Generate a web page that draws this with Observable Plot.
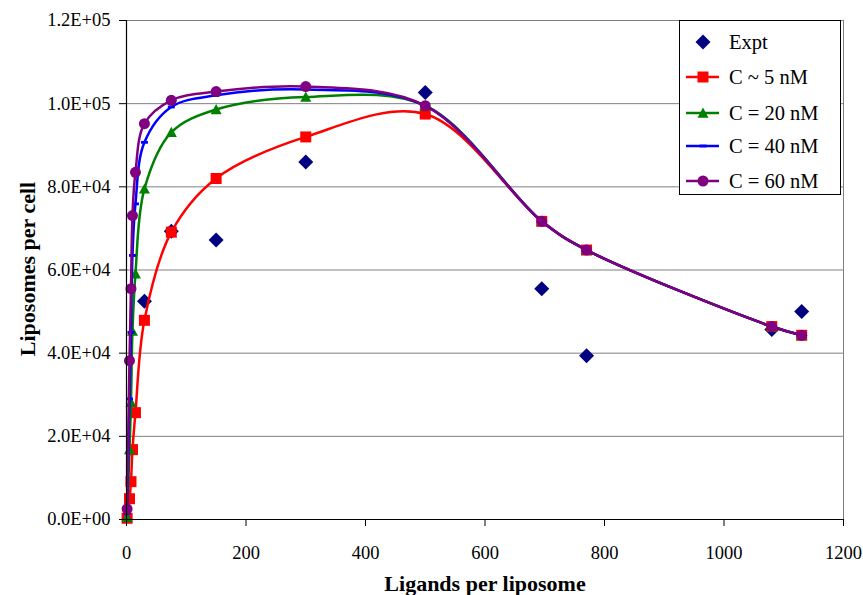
<!DOCTYPE html>
<html>
<head>
<meta charset="utf-8">
<script src="https://cdn.jsdelivr.net/npm/d3@7"></script>
<script src="https://cdn.jsdelivr.net/npm/@observablehq/plot@0.6"></script>
<style>
  html, body { margin: 0; padding: 0; background: #fff; }
  #wrap { position: relative; width: 863px; height: 595px; font-family: 'Liberation Serif', serif; }
  #wrap svg.plot { position: absolute; left: 0; top: 0; }
  .title { position: absolute; font-family: 'Liberation Serif', serif; font-weight: bold; font-size: 22px; color: #000; white-space: nowrap; }
  #xtitle { left: 485px; top: 584px; transform: translate(-50%, -50%); }
  #ytitle { left: 28px; top: 269px; transform: translate(-50%, -50%) rotate(-90deg); }
  #legend { position: absolute; left: 679px; top: 20px; width: 160px; height: 173px; background: #fff; border: 1px solid #000; }
</style>
</head>
<body>
<div id="wrap">
  <div id="xtitle" class="title">Ligands per liposome</div>
  <div id="ytitle" class="title">Liposomes per cell</div>
</div>
<script>
// ---- data ----
const exptX = [30, 75, 150, 300, 500, 695, 770, 1080, 1130];
const exptY = [52500, 69300, 67200, 86000, 102700, 55500, 39400, 45700, 50000];

const modelX = [1, 5, 7.5, 10, 15, 30, 75, 150, 300, 500, 695, 770, 1080, 1130];
const c5Y  = [300, 5000, 9100, 16800, 25700, 47900, 69100, 82000, 92000, 97500, 71700, 64800, 46400, 44300];
const c20Y = [550, 16800, 28200, 45300, 59100, 79500, 93100, 98600, 101600, 99500, 71700, 64800, 46400, 44300];
const c40Y = [1500, 29000, 45000, 63500, 75900, 90700, 99200, 102000, 103400, 99500, 71700, 64800, 46400, 44300];
const c60Y = [2570, 38200, 55500, 73100, 83500, 95200, 100800, 102900, 104100, 99500, 71700, 64800, 46400, 44300];

const seriesNames = ["Expt", "C ~ 5 nM", "C = 20 nM", "C = 40 nM", "C = 60 nM"];
const seriesColors = ["#000080", "#FF0000", "#008000", "#0000FF", "#800080"];

const xTicks = [0, 200, 400, 600, 800, 1000, 1200];
const yTicks = [0, 20000, 40000, 60000, 80000, 100000, 120000];

// ---- symbols (half-extent r recovered from size = PI r^2) ----
const R = s => Math.sqrt(s / Math.PI);
const diamond = { draw(c, s) { const r = R(s); c.moveTo(0, -r); c.lineTo(r, 0); c.lineTo(0, r); c.lineTo(-r, 0); c.closePath(); } };
const square = { draw(c, s) { const r = R(s); c.rect(-r, -r, 2 * r, 2 * r); } };
const triangle = { draw(c, s) { const r = R(s); c.moveTo(0, -r); c.lineTo(r, r * 0.85); c.lineTo(-r, r * 0.85); c.closePath(); } };
const dash = { draw(c, s) { const r = R(s); c.rect(-r, -1.4, 2 * r, 2.8); } };

const expt = exptX.map((x, i) => ({ x, y: exptY[i] }));
const mk = ys => modelX.map((x, i) => ({ x, y: ys[i] }));
const models = [
  { data: mk(c5Y), color: seriesColors[1], symbol: square, r: 5.5 },
  { data: mk(c20Y), color: seriesColors[2], symbol: triangle, r: 5.5 },
  { data: mk(c40Y), color: seriesColors[3], symbol: dash, r: 3.5 },
  { data: mk(c60Y), color: seriesColors[4], symbol: "circle", r: 5.5 }
];

const fmtE = d => {
  const [m, e] = d.toExponential(1).split("e");
  return m + "E" + e[0] + e.slice(1).padStart(2, "0");
};

const marks = [
  Plot.gridY(yTicks, { stroke: "#808080", strokeOpacity: 1, strokeWidth: 1 }),
  Plot.ruleX([1200], { stroke: "#808080", strokeWidth: 1 }),
  Plot.dot(expt, { x: "x", y: "y", symbol: diamond, r: 7.5, fill: seriesColors[0], stroke: "none" })
];
for (const m of models) {
  marks.push(Plot.line(m.data, { x: "x", y: "y", stroke: m.color, strokeWidth: 2.5, curve: "catmull-rom" }));
  marks.push(Plot.dot(m.data, { x: "x", y: "y", symbol: m.symbol, r: m.r, fill: m.color, stroke: "none" }));
}
marks.push(
  Plot.axisX({ ticks: xTicks, tickSize: 7, tickPadding: 19, label: null, tickFormat: d => String(d) }),
  Plot.axisY({ ticks: yTicks, tickSize: 7, tickPadding: 9, label: null, tickFormat: fmtE }),
  Plot.ruleX([0], { stroke: "#000", strokeWidth: 1.2 }),
  Plot.ruleY([0], { stroke: "#000", strokeWidth: 1.2 })
);

const chart = Plot.plot({
  width: 863,
  height: 595,
  marginLeft: 126,
  marginRight: 20,
  marginTop: 20,
  marginBottom: 76,
  x: { domain: [0, 1200] },
  y: { domain: [0, 120000] },
  style: { fontFamily: "'Liberation Serif', serif", fontSize: "18.5px", color: "#000", background: "#fff", overflow: "visible" },
  marks
});
chart.classList.add("plot");
const wrap = document.getElementById("wrap");
wrap.insertBefore(chart, wrap.firstChild);

// ---- legend ----
const leg = document.createElement("div");
leg.id = "legend";
const lsvg = d3.select(leg).append("svg").attr("width", 160).attr("height", 173)
  .style("font-family", "'Liberation Serif', serif").style("font-size", "20.5px");
const rowsY = [21, 56, 92, 125, 160];
const legSyms = [
  { sym: d3.symbol(diamond, Math.PI * 7.5 * 7.5), line: false },
  { sym: d3.symbol(square, Math.PI * 5.5 * 5.5), line: true },
  { sym: d3.symbol(triangle, Math.PI * 5.5 * 5.5), line: true },
  { sym: d3.symbol(dash, Math.PI * 3.5 * 3.5), line: true },
  { sym: d3.symbol(d3.symbolCircle, Math.PI * 5.5 * 5.5), line: true }
];
seriesNames.forEach((name, i) => {
  const g = lsvg.append("g").attr("transform", `translate(0,${rowsY[i]})`);
  if (legSyms[i].line) g.append("line").attr("x1", 6).attr("x2", 39).attr("y1", 0).attr("y2", 0)
    .attr("stroke", seriesColors[i]).attr("stroke-width", 2.5);
  g.append("path").attr("transform", "translate(23,0)").attr("d", legSyms[i].sym()).attr("fill", seriesColors[i]);
  g.append("text").attr("x", 49).attr("y", 0).attr("dy", "0.35em").text(name);
});
wrap.appendChild(leg);
</script>
</body>
</html>
